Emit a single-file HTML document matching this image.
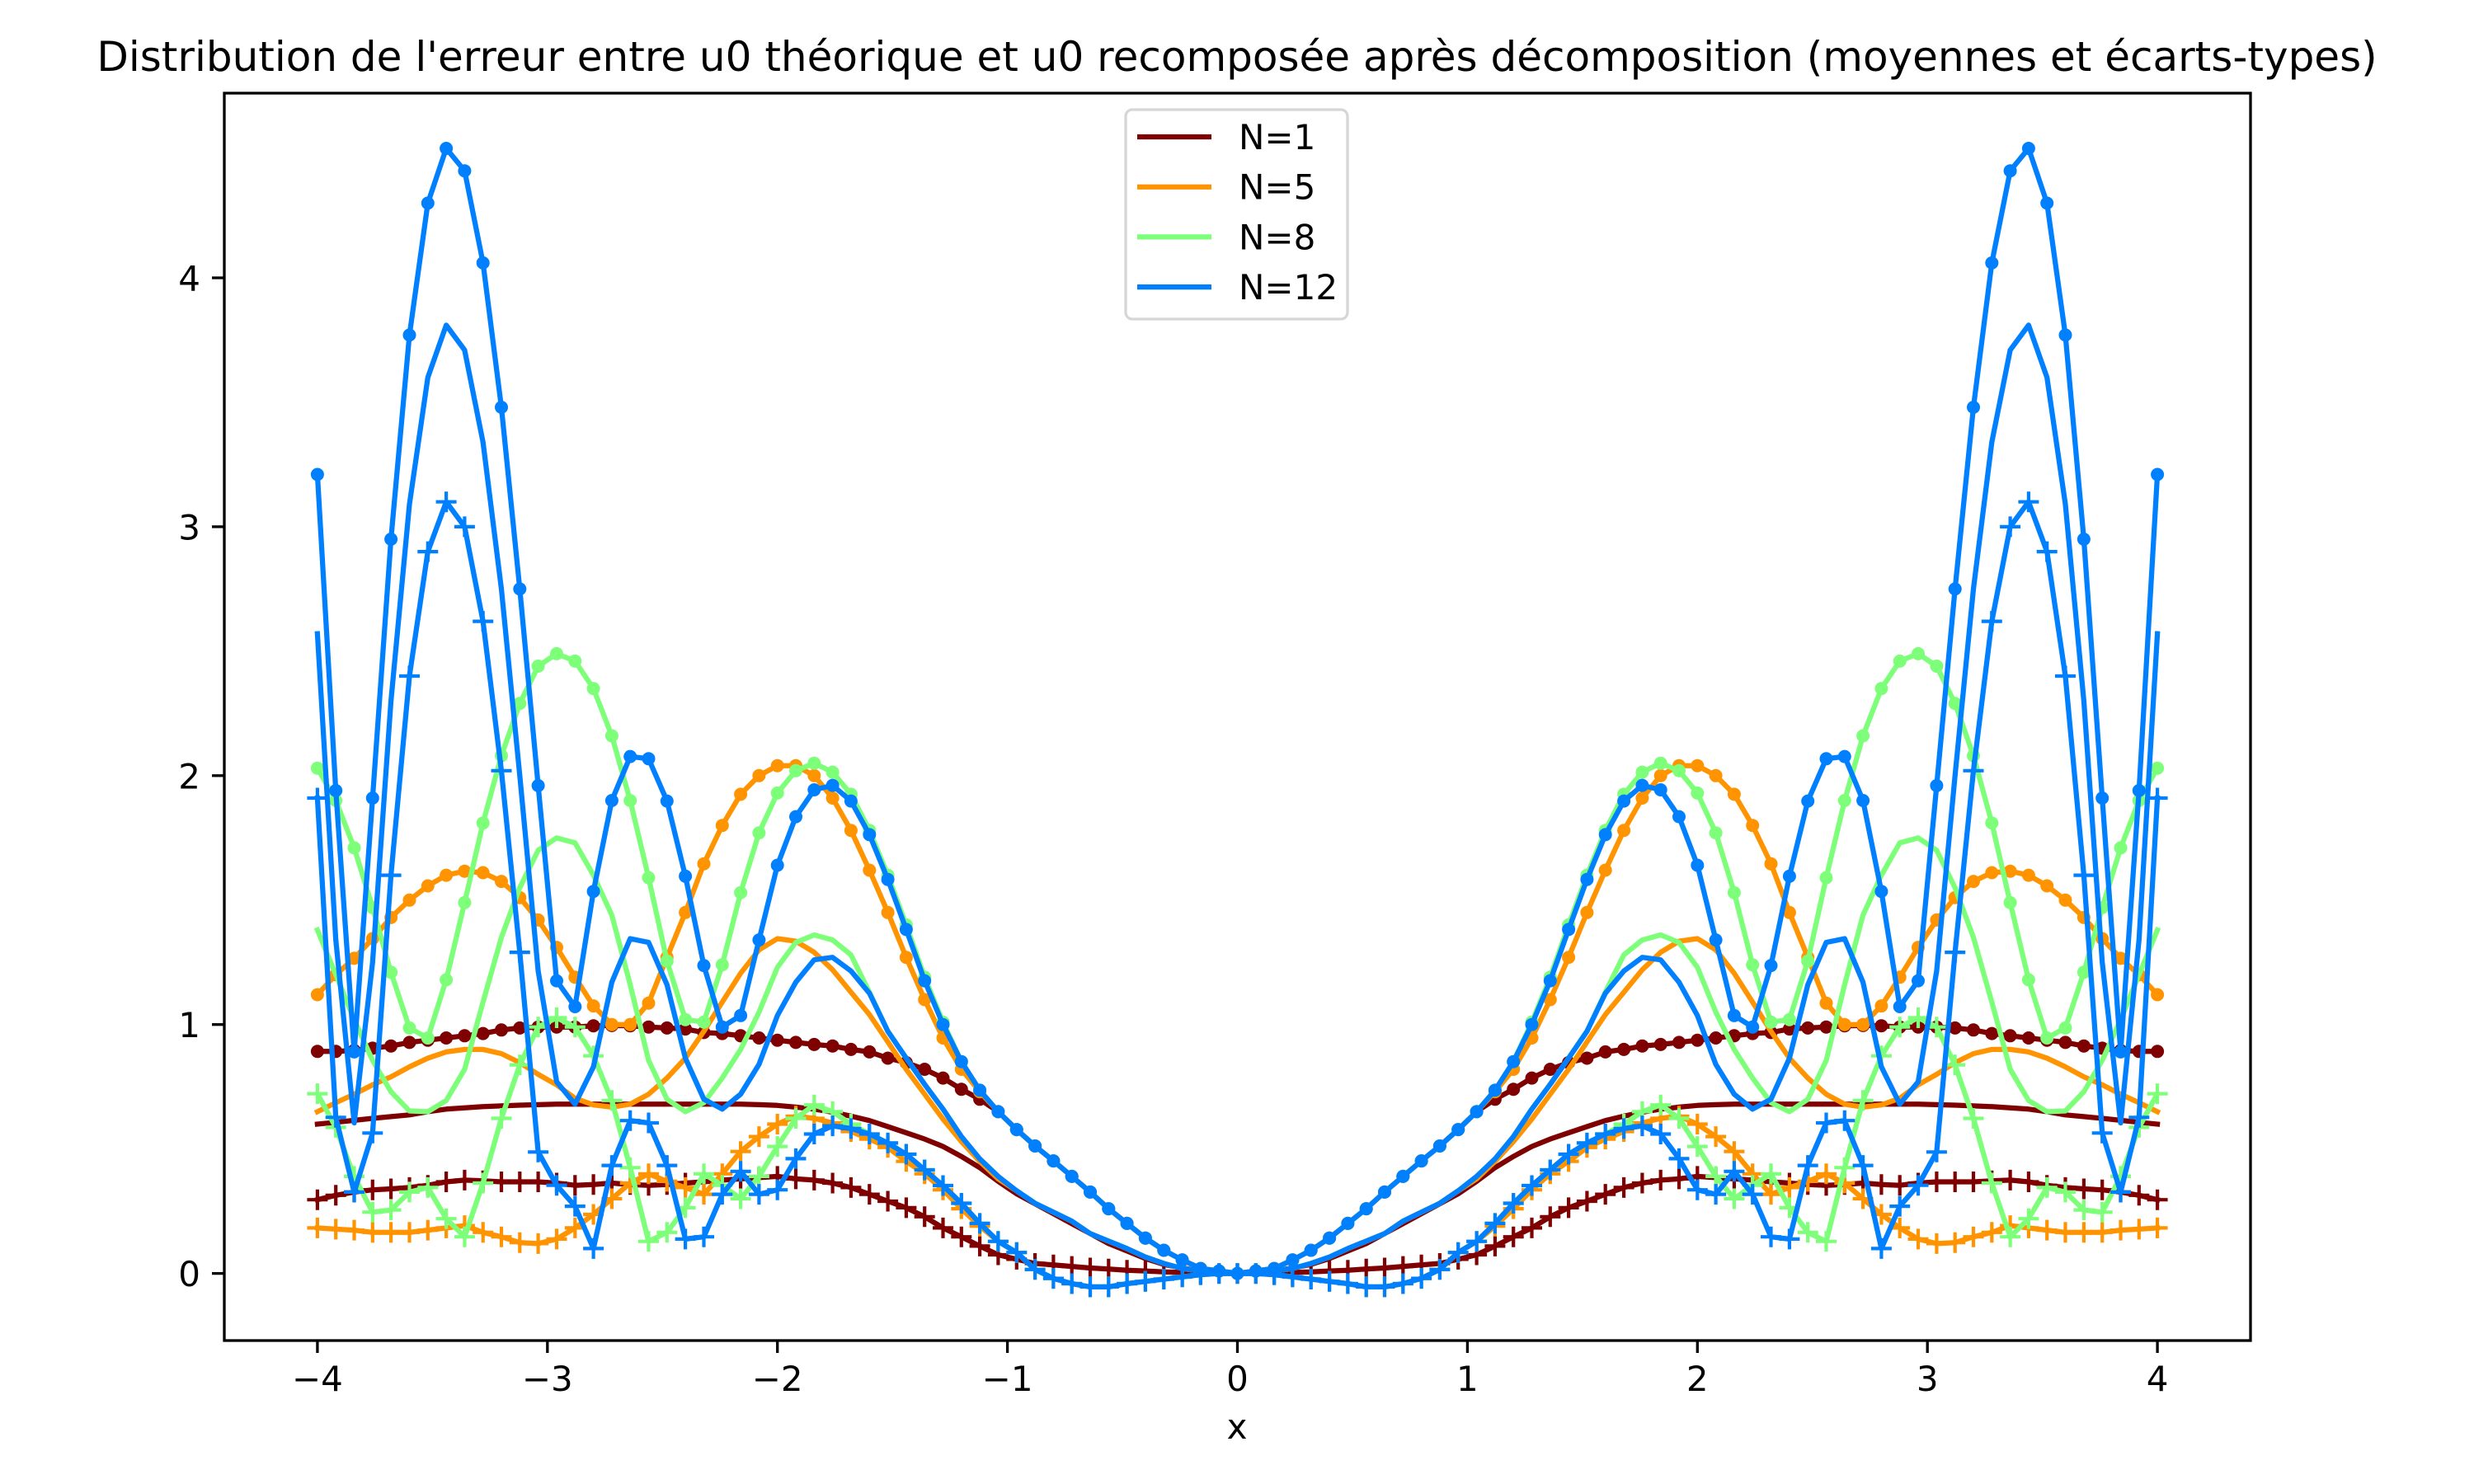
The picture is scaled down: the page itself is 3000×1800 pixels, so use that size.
<!DOCTYPE html>
<html><head><meta charset="utf-8"><style>
html,body{margin:0;padding:0;background:#fff;}
svg{display:block;}
text{font-family:"DejaVu Sans","Liberation Sans",sans-serif;fill:#000;}
</style></head><body>
<svg id="chart" xmlns="http://www.w3.org/2000/svg" width="3000" height="1800" viewBox="0 0 3000 1800">
<rect x="0" y="0" width="3000" height="1800" fill="#fff"/>
<text x="1500" y="86" font-size="50" text-anchor="middle">Distribution de l'erreur entre u0 théorique et u0 recomposée après décomposition (moyennes et écarts-types)</text>
<defs><clipPath id="plotclip"><rect x="272" y="113" width="2457" height="1513"/></clipPath></defs>
<g id="series" clip-path="url(#plotclip)"></g>
<rect x="272" y="113" width="2457" height="1513" fill="none" stroke="#000" stroke-width="3.3"/>
<g id="xticks"></g>
<g id="yticks"></g>
<text x="1500" y="1745" font-size="42" text-anchor="middle">x</text>
<g id="legend">
<rect x="1365" y="133" width="269" height="254" rx="8" fill="#fff" fill-opacity="0.8" stroke="#d6d6d6" stroke-width="3.3"/>
</g>
</svg>
<script>
// x from 0 to 4 step 0.08 (curves are symmetric about x=0)
const xTicks = [-4,-3,-2,-1,0,1,2,3,4];
const yTicks = [0,1,2,3,4];
const seriesNames = ["N=1","N=5","N=8","N=12"];
const seriesColors = ["#7f0000","#ff9400","#7dff7a","#0080ff"];

const n1Upper = [0,.01,.02,.054,.093,.142,.201,.26,.327,.39,.452,.512,.578,.65,.70,.74,.785,.82,.847,.865,.89,.90,.914,.92,.928,.937,.946,.955,.964,.968,.982,.986,.99,.995,.996,.995,.99,.99,.99,.986,.978,.964,.955,.946,.937,.928,.914,.905,.896,.892,.892];
const n1Mean = [0,.003,.01,.022,.036,.06,.09,.12,.16,.2,.24,.28,.32,.37,.425,.47,.51,.54,.565,.59,.614,.632,.648,.66,.668,.675,.678,.68,.68,.68,.68,.68,.68,.68,.68,.68,.68,.68,.678,.676,.673,.67,.665,.66,.65,.637,.63,.623,.615,.607,.60];
const n1Lower = [0,0,.002,.004,.006,.01,.013,.018,.022,.028,.034,.04,.057,.075,.11,.147,.183,.228,.264,.29,.318,.345,.363,.375,.38,.39,.385,.38,.375,.368,.363,.357,.354,.357,.363,.357,.354,.363,.368,.368,.368,.372,.375,.368,.354,.345,.34,.336,.327,.314,.296];

const n5Upper = [0,.01,.02,.054,.093,.142,.201,.26,.327,.39,.452,.512,.578,.65,.73,.82,.946,1.10,1.27,1.45,1.62,1.78,1.91,2.0,2.04,2.04,2.0,1.925,1.80,1.646,1.45,1.27,1.086,1.0,1.0,1.075,1.19,1.31,1.42,1.51,1.575,1.61,1.616,1.60,1.557,1.50,1.43,1.345,1.266,1.20,1.12];
const n5Mean = [0,0,.01,.02,.04,.066,.10,.13,.16,.21,.246,.282,.332,.38,.45,.53,.62,.72,.82,.93,1.04,1.13,1.22,1.29,1.335,1.345,1.30,1.206,1.09,.973,.865,.785,.72,.68,.668,.677,.704,.758,.80,.847,.883,.90,.90,.89,.865,.83,.79,.758,.72,.686,.65];
const n5Lower = [0,0,-.005,-.014,-.023,-.032,-.041,-.054,-.054,-.041,-.02,.016,.084,.129,.19,.26,.336,.40,.45,.506,.54,.57,.605,.623,.632,.60,.55,.49,.40,.318,.345,.37,.40,.363,.30,.237,.183,.138,.12,.124,.147,.165,.192,.183,.174,.165,.165,.165,.174,.178,.183];

const n8Upper = [0,.01,.02,.054,.093,.142,.201,.26,.327,.39,.452,.512,.578,.65,.736,.851,1.01,1.19,1.40,1.60,1.78,1.925,2.014,2.05,2.02,1.93,1.77,1.53,1.24,1.01,1.02,1.255,1.59,1.90,2.16,2.35,2.46,2.49,2.44,2.29,2.08,1.81,1.49,1.18,.946,.986,1.21,1.47,1.71,1.90,2.03];
const n8Mean = [0,0,.01,.02,.04,.066,.10,.13,.16,.21,.246,.282,.332,.39,.46,.55,.66,.76,.865,.973,1.13,1.28,1.34,1.36,1.33,1.23,1.05,.90,.785,.686,.65,.70,.856,1.16,1.44,1.60,1.73,1.75,1.70,1.55,1.35,1.09,.82,.695,.65,.653,.73,.856,1.02,1.20,1.38];
const n8Lower = [0,0,-.005,-.014,-.023,-.032,-.041,-.054,-.054,-.041,-.02,.016,.084,.129,.201,.282,.353,.416,.479,.524,.56,.60,.65,.677,.623,.51,.39,.30,.354,.40,.264,.165,.129,.425,.695,.874,.99,1.027,.99,.838,.623,.363,.147,.22,.345,.327,.255,.246,.39,.587,.722];

const n12Upper = [0,.01,.02,.054,.093,.142,.201,.26,.327,.39,.452,.512,.578,.65,.736,.851,1.0,1.176,1.382,1.583,1.763,1.898,1.961,1.943,1.835,1.64,1.34,1.036,.99,1.237,1.596,1.898,2.068,2.077,1.90,1.535,1.072,1.176,1.96,2.75,3.48,4.06,4.43,4.52,4.30,3.77,2.95,1.91,.89,1.94,3.21];
const n12Mean = [0,0,.01,.02,.04,.066,.10,.13,.16,.21,.246,.282,.332,.39,.46,.55,.66,.76,.865,.973,1.126,1.215,1.27,1.26,1.17,1.036,.84,.72,.66,.70,.865,1.16,1.33,1.345,1.17,.83,.68,.77,1.215,2.0,2.75,3.34,3.71,3.81,3.60,3.09,2.3,1.25,.605,1.34,2.57];
const n12Lower = [0,0,-.005,-.014,-.023,-.032,-.041,-.054,-.054,-.041,-.02,.016,.084,.129,.201,.282,.353,.416,.479,.524,.56,.582,.593,.56,.461,.336,.318,.41,.318,.147,.138,.434,.605,.614,.434,.10,.27,.354,.488,1.29,2.02,2.62,3.0,3.10,2.90,2.40,1.60,.564,.327,.627,1.91];

const halfStep = 0.08;
const X0 = 1500.5, XU = 278.9, Y0 = 1544.6, YU = 301.9;
function xs(v){ return X0 + XU*v; }
function ys(v){ return Y0 - YU*v; }
const NS = "http://www.w3.org/2000/svg";

function fullPoints(half){
  const pts = [];
  for (let i = half.length-1; i >= 1; i--) pts.push([-i*halfStep, half[i]]);
  for (let i = 0; i < half.length; i++) pts.push([i*halfStep, half[i]]);
  return pts;
}

const g = document.getElementById('series');
const groups = [
  [n1Upper, n1Mean, n1Lower],
  [n5Upper, n5Mean, n5Lower],
  [n8Upper, n8Mean, n8Lower],
  [n12Upper, n12Mean, n12Lower]
];
const kinds = ["upper","mean","lower"];
groups.forEach((grp, si) => {
  const col = seriesColors[si];
  grp.forEach((half, k) => {
    const pts = fullPoints(half);
    const pl = document.createElementNS(NS, 'polyline');
    pl.setAttribute('points', pts.map(p => xs(p[0]).toFixed(1)+','+ys(p[1]).toFixed(1)).join(' '));
    pl.setAttribute('fill', 'none');
    pl.setAttribute('stroke', col);
    pl.setAttribute('stroke-width', '6.25');
    pl.setAttribute('stroke-linejoin', 'round');
    pl.setAttribute('stroke-linecap', 'square');
    
    
    g.appendChild(pl);
    if (k === 0) {
      pts.forEach(p => {
        const c = document.createElementNS(NS, 'circle');
        c.setAttribute('cx', xs(p[0]).toFixed(1));
        c.setAttribute('cy', ys(p[1]).toFixed(1));
        c.setAttribute('r', '8');
        c.setAttribute('fill', col);
        
        
        g.appendChild(c);
      });
    } else if (k === 2) {
      pts.forEach(p => {
        const px = xs(p[0]), py = ys(p[1]);
        const m = document.createElementNS(NS, 'path');
        m.setAttribute('d', 'M'+(px-12.5).toFixed(1)+','+py.toFixed(1)+'h25M'+px.toFixed(1)+','+(py-12.5).toFixed(1)+'v25');
        m.setAttribute('stroke', col);
        m.setAttribute('stroke-width', '4.2');
        
        
        g.appendChild(m);
      });
    }
  });
});

const xt = document.getElementById('xticks');
xTicks.forEach(t => {
  const l = document.createElementNS(NS, 'line');
  l.setAttribute('x1', xs(t)); l.setAttribute('x2', xs(t));
  l.setAttribute('y1', 1626); l.setAttribute('y2', 1641);
  l.setAttribute('stroke', '#000'); l.setAttribute('stroke-width', '3.3');
  
  
  xt.appendChild(l);
  const tx = document.createElementNS(NS, 'text');
  tx.setAttribute('x', xs(t)); tx.setAttribute('y', 1687);
  tx.setAttribute('font-size', '42'); tx.setAttribute('text-anchor', 'middle');
  tx.textContent = t < 0 ? '\u2212' + Math.abs(t) : String(t);
  
  
  xt.appendChild(tx);
});
const yt = document.getElementById('yticks');
yTicks.forEach(t => {
  const l = document.createElementNS(NS, 'line');
  l.setAttribute('x1', 257); l.setAttribute('x2', 272);
  l.setAttribute('y1', ys(t)); l.setAttribute('y2', ys(t));
  l.setAttribute('stroke', '#000'); l.setAttribute('stroke-width', '3.3');
  
  
  yt.appendChild(l);
  const tx = document.createElementNS(NS, 'text');
  tx.setAttribute('x', 243); tx.setAttribute('y', ys(t) + 15.5);
  tx.setAttribute('font-size', '42'); tx.setAttribute('text-anchor', 'end');
  tx.textContent = String(t);
  
  
  yt.appendChild(tx);
});

const lg = document.getElementById('legend');
seriesNames.forEach((nm, i) => {
  const cy = 166 + 60.7*i;
  const l = document.createElementNS(NS, 'line');
  l.setAttribute('x1', 1379); l.setAttribute('x2', 1469);
  l.setAttribute('y1', cy); l.setAttribute('y2', cy);
  l.setAttribute('stroke', seriesColors[i]); l.setAttribute('stroke-width', '6.25');
  
  
  lg.appendChild(l);
  const tx = document.createElementNS(NS, 'text');
  tx.setAttribute('x', 1502); tx.setAttribute('y', cy + 15);
  tx.setAttribute('font-size', '42');
  tx.textContent = nm;
  
  
  lg.appendChild(tx);
});
</script>
</body></html>
